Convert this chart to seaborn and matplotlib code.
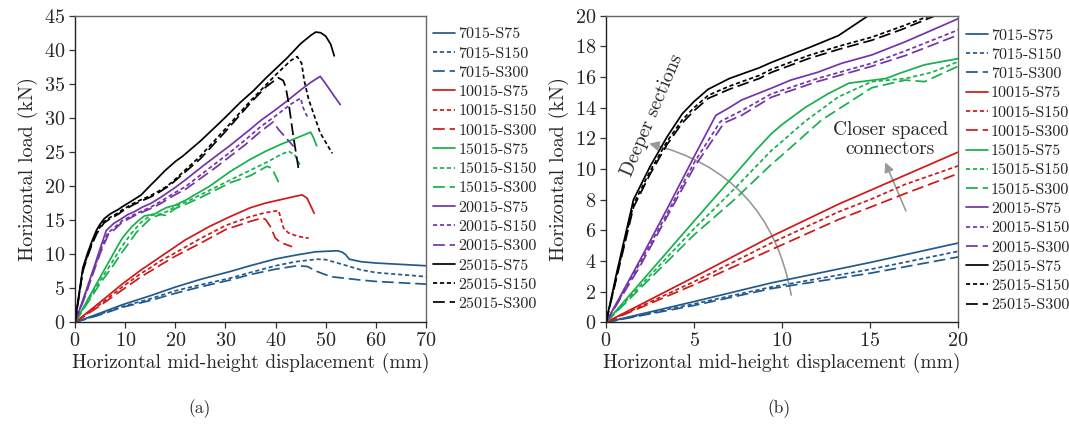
import matplotlib
matplotlib.use("Agg")
import matplotlib.pyplot as plt
import seaborn as sns
import numpy as np
from matplotlib.lines import Line2D
from matplotlib.patches import FancyArrowPatch

# ---------------- data ----------------
series_names = ["7015-S75", "7015-S150", "7015-S300",
                "10015-S75", "10015-S150", "10015-S300",
                "15015-S75", "15015-S150", "15015-S300",
                "20015-S75", "20015-S150", "20015-S300",
                "25015-S75", "25015-S150", "25015-S300"]

x_7015_S75 = [0, 5, 9.39, 15, 20, 25, 30.9, 34.9, 40, 44.3, 48, 52.3, 53.3, 54, 54.7, 57, 60, 65, 70]
y_7015_S75 = [0, 1.35, 2.57, 3.9, 5.17, 6.3, 7.45, 8.3, 9.3, 9.9, 10.35, 10.5, 10.3, 9.9, 9.26, 8.9, 8.7, 8.5, 8.3]
x_7015_S150 = [0, 5, 9.39, 15, 20, 25, 30.9, 34.9, 40, 44, 48.3, 50, 53, 57, 60, 65, 70]
y_7015_S150 = [0, 1.2, 2.3, 3.45, 4.63, 5.5, 6.47, 7.3, 8.3, 8.9, 9.26, 9.2, 8.57, 7.7, 7.3, 7.0, 6.7]
x_7015_S300 = [0, 5, 9.39, 15, 20, 25, 30.9, 34.9, 40, 44.3, 46.3, 48.3, 51, 57, 60, 65, 70]
y_7015_S300 = [0, 1.1, 2.2, 3.2, 4.26, 5.2, 6.2, 7.0, 7.8, 8.3, 8.2, 7.45, 6.7, 6.2, 6.0, 5.8, 5.6]

x_10015_S75 = [0, 5, 9.39, 13.2, 15, 17, 20, 22, 26.9, 30.9, 34.9, 38, 41, 44, 45.3, 46.3, 47.7]
y_10015_S75 = [0, 2.95, 5.6, 7.7, 8.6, 9.6, 11.1, 12.1, 14.1, 15.5, 16.8, 17.5, 18.0, 18.5, 18.7, 18.2, 16.0]
x_10015_S150 = [0, 5, 9.39, 13.2, 15, 17, 20, 25, 30, 34.9, 38, 40.6, 41.6, 42.6, 44.5, 46.6]
y_10015_S150 = [0, 2.65, 5.17, 7.2, 8.0, 9.0, 10.2, 12.3, 14.2, 15.5, 16.1, 16.4, 13.8, 13.1, 12.6, 12.35]
x_10015_S300 = [0, 5, 9.39, 13.2, 15, 17, 20, 25, 30, 34.9, 37.3, 38.0, 38.95, 39.96, 41, 43.3]
y_10015_S300 = [0, 2.45, 4.74, 6.7, 7.5, 8.4, 9.7, 11.6, 13.6, 14.8, 15.3, 15.1, 14.06, 12.35, 11.7, 11.1]

x_15015_S75 = [0, 2.5, 5, 7.29, 8.5, 9.39, 10, 11.3, 12.6, 13.8, 15.9, 16.7, 18.1, 20, 22, 26.9, 30.9, 34.9, 38, 41, 44, 47, 47.5, 48.2]
y_15015_S75 = [0, 3.3, 6.6, 9.6, 11.2, 12.3, 12.9, 14.0, 14.9, 15.6, 15.9, 16.25, 16.8, 17.2, 17.9, 20.0, 22.1, 23.9, 25.1, 26.1, 27.0, 27.9, 27.2, 25.9]
x_15015_S150 = [0, 2.5, 5, 7.29, 9.39, 10, 11.3, 13.2, 15.1, 17, 18.5, 20, 22, 25, 28, 31, 34.9, 38, 41, 42.6, 43.8, 45]
y_15015_S150 = [0, 3.05, 6.1, 8.7, 11.2, 11.8, 13.1, 14.7, 15.7, 15.9, 16.3, 17.0, 17.6, 18.7, 19.8, 20.9, 22.3, 23.4, 24.6, 25.1, 24.6, 22.9]
x_15015_S300 = [0, 2.5, 5, 7.29, 9.39, 10, 12.25, 15.1, 17, 18.1, 20, 22, 25, 28, 31, 34.9, 38.3, 39.3, 41]
y_15015_S300 = [0, 2.85, 5.7, 8.0, 10.3, 10.9, 13.2, 15.3, 15.8, 15.7, 16.7, 17.3, 18.3, 19.4, 20.5, 21.5, 22.9, 22.6, 19.9]

x_20015_S75 = [0, 1.95, 3.47, 5, 6.24, 7, 7.7, 9.39, 10.5, 12, 13.4, 15.1, 17, 20, 22, 25.6, 31, 34.9, 37, 40, 42.3, 45, 47, 48.9, 50, 51.5, 52.9]
y_20015_S75 = [0, 4.1, 7.4, 10.8, 13.5, 14.0, 14.5, 15.27, 15.8, 16.3, 16.9, 17.44, 18.3, 19.8, 20.9, 23.0, 26.0, 28.3, 29.6, 31.2, 32.5, 34.1, 35.2, 36.1, 35.0, 33.4, 31.95]
x_20015_S150 = [0, 1.95, 3.47, 5, 6.5, 7.7, 9.39, 12, 15.1, 17, 20, 22, 25, 28, 31, 34, 37, 40, 43, 45, 45.5, 46.3]
y_20015_S150 = [0, 3.9, 7.1, 10.4, 13.1, 13.8, 14.9, 15.9, 16.9, 17.7, 19.07, 19.9, 21.6, 23.3, 25.0, 26.8, 28.7, 30.3, 32.0, 32.9, 31.5, 30.2]
x_20015_S300 = [0, 1.95, 3.47, 5, 6.7, 7.7, 9.39, 12, 15.1, 17, 20, 22, 25, 28, 31, 34, 37, 39.5, 40.6, 43.6]
y_20015_S300 = [0, 3.7, 6.9, 10.1, 13.0, 13.5, 14.68, 15.7, 16.7, 17.4, 18.74, 19.5, 21.1, 22.7, 24.4, 26.1, 28.0, 29.4, 28.3, 25.8]

x_25015_S75 = [0, 0.6, 1.56, 2.52, 3.47, 4.33, 5.0, 5.8, 7, 8.7, 9.39, 11.5, 13.2, 14.9, 16, 18, 20, 21.5, 25, 28.3, 30, 33, 35.6, 38, 40, 42.3, 45, 47, 48, 49, 50, 51, 51.7]
y_25015_S75 = [0, 3.2, 8.0, 10.2, 12.1, 13.6, 14.4, 15.2, 15.9, 16.6, 16.95, 17.9, 18.7, 20.0, 20.8, 22.3, 23.6, 24.4, 26.6, 28.9, 30.1, 32.3, 34.0, 35.8, 37.2, 38.8, 40.9, 42.1, 42.6, 42.5, 42.0, 40.8, 39.1]
x_25015_S150 = [0, 0.6, 1.56, 2.52, 3.47, 4.33, 5, 5.8, 7, 8.7, 9.39, 11.5, 13.2, 15.1, 16.8, 18.4, 20, 25, 30, 35, 40, 43, 44.3, 45.2, 45.7, 46.6, 48.9, 51.3]
y_25015_S150 = [0, 3.0, 7.7, 9.9, 11.8, 13.2, 14.0, 14.8, 15.4, 16.1, 16.5, 17.4, 18.0, 18.6, 19.3, 20.0, 21.0, 24.4, 28.4, 32.5, 36.3, 38.4, 39.0, 38.0, 35.5, 32.7, 27.8, 24.8]
x_25015_S300 = [0, 0.6, 1.56, 2.52, 3.47, 4.33, 5, 5.8, 7, 8.7, 9.39, 11.5, 13.2, 15.1, 16.8, 18.7, 20, 25, 30, 35, 38, 40.5, 41.5, 42, 42.6, 43.5, 44.6]
y_25015_S300 = [0, 2.9, 7.5, 9.7, 11.6, 13.0, 13.8, 14.6, 15.2, 15.9, 16.3, 17.2, 17.8, 18.4, 19.1, 20.0, 20.8, 24.0, 28.0, 32.2, 34.5, 35.9, 35.5, 34.6, 32.2, 27.5, 22.4]

xs = [x_7015_S75, x_7015_S150, x_7015_S300, x_10015_S75, x_10015_S150, x_10015_S300,
      x_15015_S75, x_15015_S150, x_15015_S300, x_20015_S75, x_20015_S150, x_20015_S300,
      x_25015_S75, x_25015_S150, x_25015_S300]
ys = [y_7015_S75, y_7015_S150, y_7015_S300, y_10015_S75, y_10015_S150, y_10015_S300,
      y_15015_S75, y_15015_S150, y_15015_S300, y_20015_S75, y_20015_S150, y_20015_S300,
      y_25015_S75, y_25015_S150, y_25015_S300]

# ---------------- styles ----------------
group_colors = ["#215a8c", "#d01818", "#16b04c", "#7433a8", "#000000"]
line_styles = ["-", (0, (3, 2)), (0, (8.5, 3.5))]

sns.set_theme(style="ticks")
plt.rcParams["font.family"] = ["cmr10", "DejaVu Serif"]
plt.rcParams["mathtext.fontset"] = "cm"
plt.rcParams["axes.formatter.use_mathtext"] = True
plt.rcParams["lines.scale_dashes"] = False

fig = plt.figure(figsize=(10.69, 4.29), dpi=100)
axL = fig.add_axes([0.0702, 0.2487, 0.3283, 0.7147])
axR = fig.add_axes([0.5669, 0.2487, 0.3293, 0.7147])

for ax in (axL, axR):
    for i, name in enumerate(series_names):
        sns.lineplot(x=xs[i], y=ys[i], ax=ax, color=group_colors[i // 3],
                     linestyle=line_styles[i % 3], lw=1.25, sort=False,
                     estimator=None, label=name, legend=False)

axL.set_xlim(0, 70)
axL.set_ylim(0, 45)
axL.set_xticks(np.arange(0, 71, 10))
axL.set_yticks(np.arange(0, 46, 5))
axR.set_xlim(0, 20)
axR.set_ylim(0, 20)
axR.set_xticks(np.arange(0, 21, 5))
axR.set_yticks(np.arange(0, 21, 2))

for ax in (axL, axR):
    ax.set_xlabel("Horizontal mid-height displacement (mm)", fontsize=14, labelpad=2)
    ax.set_ylabel("Horizontal load (kN)", fontsize=14.5, labelpad=4)
    ax.tick_params(axis="both", labelsize=14.5, length=4, width=0.9, direction="out",
                   pad=3, color="#333333")
    for side in ("left", "bottom"):
        ax.spines[side].set_color("#222222")
        ax.spines[side].set_linewidth(1.0)
    for side in ("top", "right"):
        ax.spines[side].set_visible(True)
        ax.spines[side].set_color("#666666")
        ax.spines[side].set_linewidth(1.0)

handles = [Line2D([0], [0], color=group_colors[i // 3], linestyle=line_styles[i % 3], lw=1.25)
           for i in range(len(series_names))]
for anchor in ((0.405, 0.606), (0.9034, 0.603)):
    fig.legend(handles, series_names, loc="center left", bbox_to_anchor=anchor,
               frameon=False, fontsize=11.6, handlelength=1.37, handletextpad=0.2,
               labelspacing=0.31, borderpad=0, borderaxespad=0)

# annotations on zoomed panel
axR.text(2.63, 13.5, "Deeper sections", rotation=67, fontsize=14,
         ha="center", va="center")
axR.add_patch(FancyArrowPatch((10.55, 1.6), (2.3, 11.7), connectionstyle="arc3,rad=0.33",
                              arrowstyle="-|>", mutation_scale=14, color="#999999", lw=1.2))
axR.text(16.14, 11.94, "Closer spaced\nconnectors", fontsize=14, ha="center", va="center",
         linespacing=1.1)
axR.add_patch(FancyArrowPatch((17.1, 7.1), (15.8, 10.6), arrowstyle="-|>",
                              mutation_scale=14, color="#999999", lw=1.2))

fig.text(200 / 1069, 1 - 409 / 429, "(a)", fontsize=12.5, ha="center", va="center")
fig.text(779 / 1069, 1 - 409 / 429, "(b)", fontsize=12.5, ha="center", va="center")

fig.savefig("out.png", dpi=100)
